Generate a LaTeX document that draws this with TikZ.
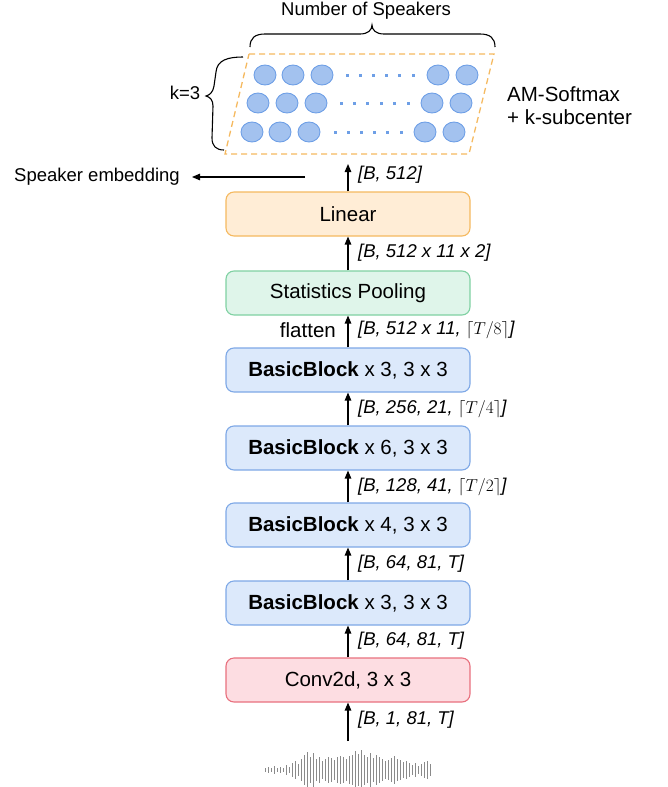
\documentclass[tikz,border=0pt]{standalone}
\usepackage{fontspec}
\setmainfont{Liberation Sans}
\usetikzlibrary{arrows.meta,decorations.pathreplacing,calc,shapes.geometric}
\definecolor{orfill}{HTML}{FFEDD6}
\definecolor{ordraw}{HTML}{F5B95F}
\definecolor{grfill}{HTML}{DFF5EA}
\definecolor{grdraw}{HTML}{7FD1A2}
\definecolor{blfill}{HTML}{DCE9FB}
\definecolor{bldraw}{HTML}{7EA8E6}
\definecolor{pkfill}{HTML}{FDDDE2}
\definecolor{pkdraw}{HTML}{E8707E}
\definecolor{cfill}{HTML}{A3C2EF}
\definecolor{cdraw}{HTML}{6E9FE6}
\definecolor{wave}{HTML}{8A8A8A}
\begin{document}
\begin{tikzpicture}[x=1pt,y=-1pt,
  blk/.style={draw, line width=1.1pt, rounded corners=8pt, minimum width=244pt, minimum height=44pt, font=\fontsize{20.5}{22}\selectfont, inner sep=0pt},
  lin/.style={blk, fill=orfill, draw=ordraw},
  stat/.style={blk, fill=grfill, draw=grdraw},
  bb/.style={blk, fill=blfill, draw=bldraw},
  cv/.style={blk, fill=pkfill, draw=pkdraw},
  arr/.style={line width=1.2pt, -{Triangle[width=6.5pt,length=8pt]}},
  lbl/.style={anchor=west, font=\fontsize{18.5}{20}\selectfont\itshape, inner sep=0pt},
  txt/.style={font=\fontsize{18.5}{20}\selectfont, inner sep=0pt},
  spk/.style={ellipse, draw=cdraw, fill=cfill, line width=0.9pt, minimum width=22pt, minimum height=20pt, inner sep=0pt},
  dt/.style={fill=cdraw, minimum size=3pt, inner sep=0pt},
  brc/.style={line width=1.1pt}
]
\useasboundingbox (0,0) rectangle (667,787);

% blocks
\node[lin]  (linear) at (348,214) {Linear};
\node[stat] (pool)   at (348,293) {Statistics Pooling};
\node[bb]   (b4)     at (348,370) {\textbf{BasicBlock} x 3, 3 x 3};
\node[bb]   (b3)     at (348,448) {\textbf{BasicBlock} x 6, 3 x 3};
\node[bb]   (b2)     at (348,525) {\textbf{BasicBlock} x 4, 3 x 3};
\node[bb]   (b1)     at (348,603) {\textbf{BasicBlock} x 3, 3 x 3};
\node[cv]   (conv)   at (348,680) {Conv2d, 3 x 3};

% waveform
\coordinate (wavetop) at (348,741);
\foreach \h [count=\i] in {2,3,2,4,2,3,2,5,3,7,9,6,11,15,18,13,17,11,13,9,11,13,12,10,13,14,13,11,14,15,19,16,20,15,13,17,12,15,13,11,9,10,12,14,11,10,8,9,7,5,7,4,6,8,9,6} {
  \draw[wave, line width=0.8pt] ({265+3*(\i-1)},{770-\h}) -- ({265+3*(\i-1)},{770+\h});
}

% arrows
\draw[arr] (wavetop) -- (conv.south);
\draw[arr] (conv) -- (b1);
\draw[arr] (b1) -- (b2);
\draw[arr] (b2) -- (b3);
\draw[arr] (b3) -- (b4);
\draw[arr] (b4) -- (pool);
\draw[arr] (pool) -- (linear);
\coordinate (embtop) at (348,164);
\draw[arr] (linear.north) -- (embtop);

% labels
\node[lbl] (l0) at (358,720) {[B, 1, 81, T]};
\node[lbl] (l1) at (358,641) {[B, 64, 81, T]};
\node[lbl] (l2) at (358,564) {[B, 64, 81, T]};
\node[lbl] (l3) at (358,487) {[B, 128, 41, $\lceil T/2\rceil$]};
\node[lbl] (l4) at (358,409) {[B, 256, 21, $\lceil T/4\rceil$]};
\node[lbl] (l5) at (358,330) {[B, 512 x 11, $\lceil T/8\rceil$]};
\node[font=\fontsize{20.5}{22}\selectfont, inner sep=0pt, anchor=east] (flat) at (336,330) {flatten};
\node[lbl] (l6) at (358,253) {[B, 512 x 11 x 2]};
\node[lbl] (l7) at (358,175) {[B, 512]};

% speaker embedding
\coordinate (embsrc) at (305,177);
\coordinate (embend) at (192,177);
\node[txt, anchor=east] (emb) at (180,177) {Speaker embedding};
\draw[arr] (embsrc) -- (embend);

% classifier
\coordinate (p1) at (249,54);
\coordinate (p2) at (494,54);
\coordinate (p3) at (469,154);
\coordinate (p4) at (225,154);
\draw[ordraw, line width=1.3pt, dash pattern=on 6pt off 4pt] (p1) -- (p2) -- (p3) -- (p4) -- cycle;

\foreach \x [count=\i] in {265,293,322,438,467} \node[spk] (ra\i) at (\x,75) {};
\foreach \x [count=\i] in {258,287,316,432,461} \node[spk] (rb\i) at (\x,103) {};
\foreach \x [count=\i] in {252,280,309,425,454} \node[spk] (rc\i) at (\x,132) {};
\foreach \j in {0,...,5} {
  \node[dt] (da\j) at ({347+13.2*\j},75) {};
  \node[dt] (db\j) at ({341+13.4*\j},103) {};
  \node[dt] (dc\j) at ({335+13.2*\j},132) {};
}

% braces
\coordinate (bt1) at (250,47);
\coordinate (bt2) at (495,47);
\coordinate (btip) at (372,25);
\draw[brc] (bt1) .. controls (250,38) and (255,34) .. (265,34) -- (360,34)
  .. controls (368,34) and (372,30) .. (btip)
  .. controls (372,30) and (376,34) .. (384,34) -- (480,34)
  .. controls (490,34) and (495,38) .. (bt2);
\node[txt] (nspk) at (366,11) {Number of Speakers};
\coordinate (bl1) at (243,57);
\coordinate (bl2) at (224,150);
\coordinate (bltip) at (206,96);
\draw[brc] (bl1) .. controls (228,57) and (217,60) .. (216,72) -- (214,86)
  .. controls (213,92) and (210,95) .. (bltip)
  .. controls (210,97) and (213,100) .. (213,106) -- (212,138)
  .. controls (212,146) and (216,150) .. (bl2);
\node[txt] (k3) at (185,93) {k=3};
\node[font=\fontsize{20.5}{23}\selectfont, inner sep=0pt, anchor=west, align=left] (am) at (507,106) {AM-Softmax\\+ k-subcenter};
\end{tikzpicture}
\end{document}
